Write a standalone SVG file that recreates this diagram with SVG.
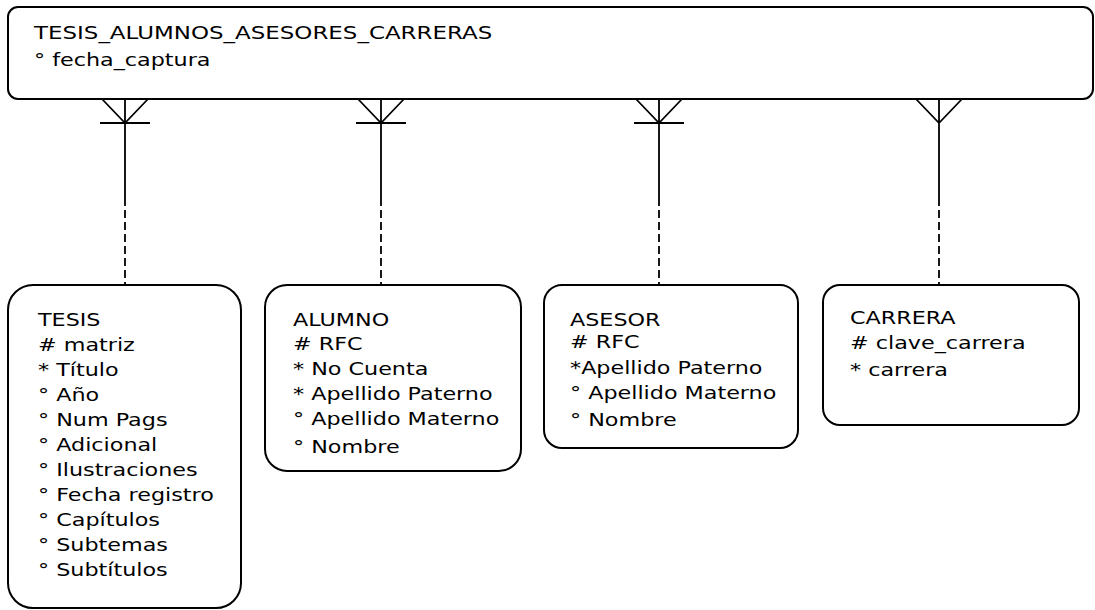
<svg xmlns="http://www.w3.org/2000/svg" width="1095" height="610" viewBox="0 0 1095 610">
<style>
.box{fill:#fff;stroke:#000;stroke-width:2}
.ln{stroke:#000;stroke-width:1.8;fill:none}
.ds{stroke:#000;stroke-width:1.8;fill:none;stroke-dasharray:8 4}
text{font-family:"DejaVu Sans","Liberation Sans",sans-serif;font-size:17px;fill:#000}
</style>
<rect width="1095" height="610" fill="#fff"/>
<g id="connectors">
  <g id="c-tesis">
    <path class="ln" d="M125 99V198M102 99L125 123L148 99M100 123H150"/>
    <path class="ds" d="M125 198V285"/>
  </g>
  <g id="c-alumno">
    <path class="ln" d="M381 99V198M358 99L381 123L404 99M356 123H406"/>
    <path class="ds" d="M381 198V285"/>
  </g>
  <g id="c-asesor">
    <path class="ln" d="M659 99V198M636 99L659 123L682 99M634 123H684"/>
    <path class="ds" d="M659 198V285"/>
  </g>
  <g id="c-carrera">
    <path class="ln" d="M939 99V198M916 99L939 123L962 99"/>
    <path class="ds" d="M939 198V285"/>
  </g>
</g>
<g id="tesis_alumnos_asesores_carreras">
  <rect class="box" x="8" y="7" width="1085" height="92" rx="10"/>
  <g transform="translate(34,0) scale(1.35,1)">
    <text x="0" y="39">TESIS_ALUMNOS_ASESORES_CARRERAS</text>
  </g>
  <g transform="translate(34,0) scale(1.31,1)">
    <text x="0" y="66">° fecha_captura</text>
  </g>
</g>
<g id="tesis">
  <rect class="box" x="8" y="285" width="233" height="323" rx="25"/>
  <g transform="translate(38,0) scale(1.31,1)">
    <text x="0" y="326">TESIS</text>
    <text x="0" y="351"># matriz</text>
    <text x="0" y="376">* Título</text>
    <text x="0" y="401">° Año</text>
    <text x="0" y="426">° Num Pags</text>
    <text x="0" y="451">° Adicional</text>
    <text x="0" y="476">° Ilustraciones</text>
    <text x="0" y="501">° Fecha registro</text>
    <text x="0" y="526">° Capítulos</text>
    <text x="0" y="551">° Subtemas</text>
    <text x="0" y="576">° Subtítulos</text>
  </g>
</g>
<g id="alumno">
  <rect class="box" x="265" y="285" width="256" height="186" rx="22"/>
  <g transform="translate(293,0) scale(1.31,1)">
    <text x="0" y="326">ALUMNO</text>
    <text x="0" y="350"># RFC</text>
    <text x="0" y="375">* No Cuenta</text>
    <text x="0" y="400">* Apellido Paterno</text>
    <text x="0" y="425">° Apellido Materno</text>
    <text x="0" y="453">° Nombre</text>
  </g>
</g>
<g id="asesor">
  <rect class="box" x="544" y="285" width="254" height="163" rx="18"/>
  <g transform="translate(570,0) scale(1.31,1)">
    <text x="0" y="326">ASESOR</text>
    <text x="0" y="348"># RFC</text>
    <text x="0" y="374">*Apellido Paterno</text>
    <text x="0" y="399">° Apellido Materno</text>
    <text x="0" y="426">° Nombre</text>
  </g>
</g>
<g id="carrera">
  <rect class="box" x="823" y="285" width="256" height="140" rx="17"/>
  <g transform="translate(850,0) scale(1.31,1)">
    <text x="0" y="324">CARRERA</text>
    <text x="0" y="349"># clave_carrera</text>
    <text x="0" y="376">* carrera</text>
  </g>
</g>
</svg>
